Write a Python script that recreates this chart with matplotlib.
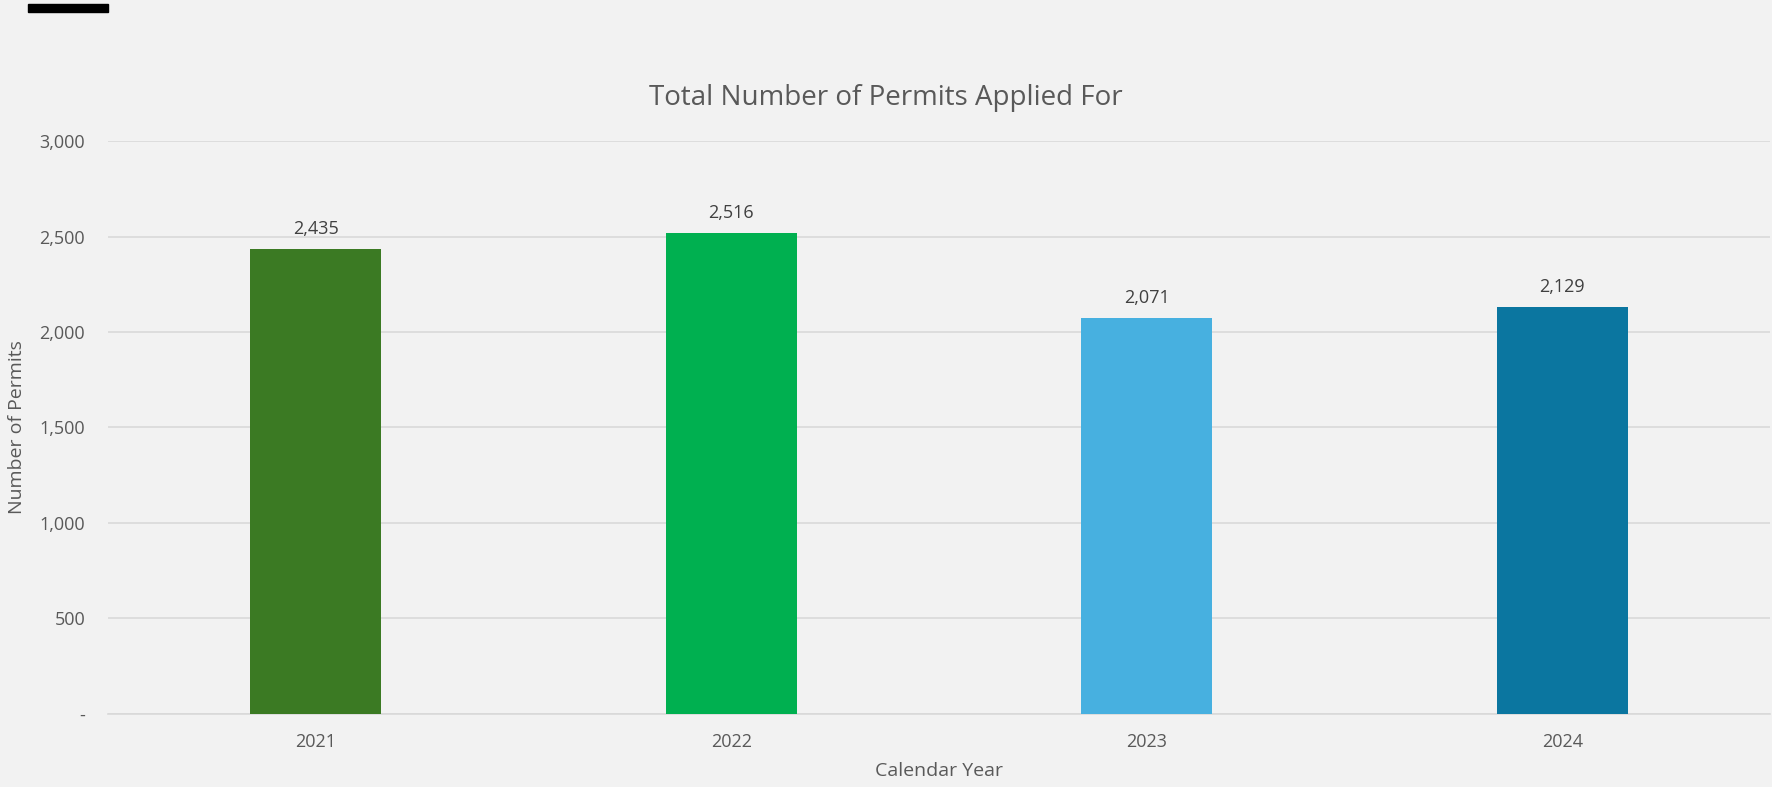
import matplotlib
matplotlib.use("Agg")
import matplotlib.pyplot as plt
from matplotlib.patches import Rectangle
from matplotlib.ticker import FuncFormatter

FN = "Open Sans"
plt.rc("font", family=[FN, "DejaVu Sans"])

# data
years = ["2021", "2022", "2023", "2024"]
permits = [2435, 2516, 2071, 2129]
bar_colors = ["#3B7A23", "#00B050", "#47B0E0", "#0B76A0"]
yticks = [0, 500, 1000, 1500, 2000, 2500, 3000]

BG = "#F2F2F2"
TXT = "#595959"

fig = plt.figure(figsize=(17.72, 7.87), dpi=100, facecolor=BG)
ax = fig.add_axes([108 / 1772, 0.0928, 1662 / 1772, 0.728])
ax.set_facecolor(BG)

bars = ax.bar(years, permits, width=0.316, color=bar_colors, zorder=3)
ax.bar_label(bars, labels=[f"{v:,}" for v in permits], padding=8,
             fontsize=13, color="#404040")

ax.set_ylim(0, 3000)
ax.set_xlim(-0.5, 3.5)
ax.set_yticks(yticks)
ax.yaxis.set_major_formatter(FuncFormatter(lambda v, p: "-" if v == 0 else f"{v:,.0f}"))
ax.grid(axis="y", color="#D9D9D9", lw=1.2, zorder=0)
ax.tick_params(axis="both", length=0, labelsize=13, labelcolor=TXT)
ax.tick_params(axis="y", pad=16.5)
ax.tick_params(axis="x", pad=13.5)
for s in ["top", "right", "left"]:
    ax.spines[s].set_visible(False)
ax.spines["bottom"].set_color("#D9D9D9")
ax.spines["bottom"].set_linewidth(1.2)

ax.set_xlabel("Calendar Year", fontsize=14, color=TXT, labelpad=8)
ax.set_ylabel("Number of Permits", fontsize=14, color=TXT, labelpad=10)
# title sits centred on the whole figure, not the axes
ax.set_title("Total Number of Permits Applied For", fontsize=20, color=TXT,
             pad=26, x=(886 - 108) / 1662)

# little black tab at top-left
fig.patches.append(Rectangle((28 / 1772, 1 - 12 / 787), 80 / 1772, 8 / 787,
                             transform=fig.transFigure, color="black"))

fig.savefig("out.png", dpi=100, facecolor=BG)
